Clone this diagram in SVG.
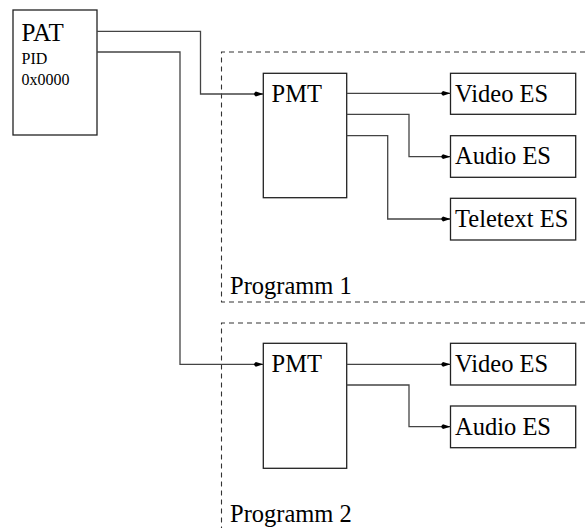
<svg xmlns="http://www.w3.org/2000/svg" width="585" height="528" viewBox="0 0 585 528">
<style>
.box{fill:#fff;stroke:#222;stroke-width:1.3}
.big{font-family:"Liberation Serif","Times New Roman",serif;font-size:24.5px;fill:#000}
.small{font-family:"Liberation Serif","Times New Roman",serif;font-size:16px;fill:#000}
.conn{fill:none;stroke:#444;stroke-width:1.3}
.dash{fill:none;stroke:#333;stroke-width:1.1;stroke-dasharray:5,4}
</style>
<defs>
<marker id="arr" markerUnits="userSpaceOnUse" markerWidth="14" markerHeight="8" refX="12" refY="4" orient="auto" overflow="visible">
<path d="M12,4 L4.5,1.6 Q1,4 4.5,6.4 Z" fill="#000"/>
</marker>
</defs>
<g id="groups">
<path class="dash" d="M585,52 H221.5 V302 H585"/>
<path class="dash" d="M585,323 H221.5 V528"/>
<text class="big" x="230" y="294">Programm 1</text>
<text class="big" x="230" y="522">Programm 2</text>
</g>
<g id="pat">
<rect class="box" x="13" y="10" width="84" height="125"/>
<text class="big" x="21.5" y="40.5" style="font-size:25px">PAT</text>
<text class="small" x="21.5" y="64">PID</text>
<text class="small" x="21.5" y="85">0x0000</text>
</g>
<g id="pmt1">
<rect class="box" x="263.3" y="73.3" width="83.4" height="124.4"/>
<text class="big" x="271.5" y="101.5">PMT</text>
</g>
<g id="video1">
<rect class="box" x="450.5" y="73.3" width="125.2" height="41"/>
<text class="big" x="455" y="101.5">Video ES</text>
</g>
<g id="audio1">
<rect class="box" x="450.5" y="135.7" width="125.2" height="41.6"/>
<text class="big" x="455" y="164">Audio ES</text>
</g>
<g id="teletext1">
<rect class="box" x="450.5" y="198.3" width="125.2" height="41.7"/>
<text class="big" x="455" y="226.7">Teletext ES</text>
</g>
<g id="pmt2">
<rect class="box" x="263.3" y="343.3" width="83.4" height="125"/>
<text class="big" x="271.5" y="372">PMT</text>
</g>
<g id="video2">
<rect class="box" x="450.5" y="343.3" width="125.2" height="41.7"/>
<text class="big" x="455" y="372">Video ES</text>
</g>
<g id="audio2">
<rect class="box" x="450.5" y="406" width="125.2" height="41.7"/>
<text class="big" x="455" y="434.5">Audio ES</text>
</g>
<g id="connectors">
<path class="conn" d="M97,31.3 H200.5 V94 H263.3" marker-end="url(#arr)"/>
<path class="conn" d="M97,52 H180 V364.3 H263.3" marker-end="url(#arr)"/>
<path class="conn" d="M346.7,93.3 H450.5" marker-end="url(#arr)"/>
<path class="conn" d="M346.7,114.3 H409 V156.7 H450.5" marker-end="url(#arr)"/>
<path class="conn" d="M346.7,135.7 H387.7 V219 H450.5" marker-end="url(#arr)"/>
<path class="conn" d="M346.7,364.3 H450.5" marker-end="url(#arr)"/>
<path class="conn" d="M346.7,385 H409 V426.7 H450.5" marker-end="url(#arr)"/>
</g>
</svg>
